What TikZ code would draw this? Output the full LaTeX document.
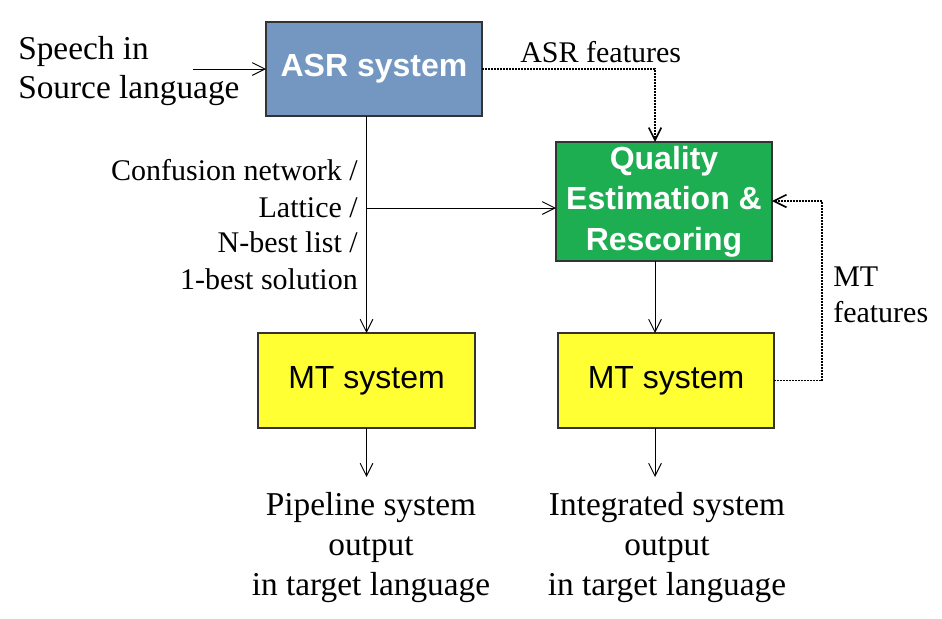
\documentclass[tikz,border=0pt]{standalone}
\usepackage{fontspec}
\setmainfont{Liberation Serif}
\newfontfamily\boxfont{Liberation Sans}
\usetikzlibrary{arrows.meta}
\definecolor{asrblue}{HTML}{7397C0}
\definecolor{qegreen}{HTML}{1DAE52}
\definecolor{mtyellow}{HTML}{FFFF33}
\begin{document}
\begin{tikzpicture}[x=0.75pt,y=-0.75pt,
  box/.style={draw=black!80, line width=1pt, inner sep=0pt, outer sep=0pt,
    font=\boxfont\fontsize{24}{30.5}\selectfont, align=center},
  boldbox/.style={box, text=white, font=\boxfont\bfseries\fontsize{24}{30.5}\selectfont},
  big/.style={font=\fontsize{25}{30}\selectfont, inner sep=0pt},
  small/.style={font=\fontsize{22.5}{27}\selectfont, inner sep=0pt},
  conn/.style={line width=0.75pt, -{Straight Barb[length=9.5pt,width=9.5pt]}},
  dots/.style={conn, line width=1.2pt, dash pattern=on 1.5pt off 0.75pt}]
\useasboundingbox (0,0) rectangle (942,618);

% boxes
\node[boldbox, fill=asrblue, minimum width=162pt, minimum height=70.5pt] (asr) at (374,69) {ASR system};
\node[boldbox, fill=qegreen, minimum width=162pt, minimum height=89.25pt] (qe) at (664,201.5) {Quality\\Estimation \&\\Rescoring};
\node[box, fill=mtyellow, minimum width=162.75pt, minimum height=71.25pt] (mtl) at (366.5,380.5) {MT system};
\node[box, fill=mtyellow, minimum width=162pt, minimum height=71.25pt] (mtr) at (666,380.5) {MT system};

% input
\node[big, anchor=base west] (sp1) at (18,59) {Speech in};
\node[big, anchor=base west] (sp2) at (18,98) {Source language};
\coordinate (spin) at (193,69);
\draw[conn] (spin) -- (asr.west);

% ASR -> MT (pipeline) and -> QE
\draw[conn] (asr.south -| mtl.north) -- (mtl.north);
\coordinate (br) at (366.5,208);
\draw[conn] (br) -- (br -| qe.west);
\node[small, anchor=base east] (l1) at (358,180) {Confusion network /};
\node[small, anchor=base east] (l2) at (358,217) {Lattice /};
\node[small, anchor=base east] (l3) at (358,252) {N-best list /};
\node[small, anchor=base east] (l4) at (358,289) {1-best solution};

% ASR features
\coordinate (af) at (655,69);
\draw[dots] (asr.east) -- (af) -- (af |- qe.north);
\node[small, anchor=base west] (afl) at (520,62) {ASR features};

% QE -> MT right
\coordinate (qx) at (655,0);
\draw[conn] (qe.south -| qx) -- (mtr.north -| qx);

% MT features
\coordinate (mf1) at (822,380.5);
\coordinate (mf2) at (822,201);
\draw[dots] (mtr.east) -- (mf1) -- (mf2) -- (mf2 -| qe.east);
\node[small, anchor=base west] (mfl1) at (833,286) {MT};
\node[small, anchor=base west] (mfl2) at (833,322) {features};

% outputs
\coordinate (ol) at (366.5,477);
\draw[conn] (mtl.south) -- (ol);
\node[big, anchor=base] (po1) at (371,515) {Pipeline system};
\node[big, anchor=base] (po2) at (371,555) {output};
\node[big, anchor=base] (po3) at (371,595) {in target language};

\coordinate (or) at (655,477);
\draw[conn] (mtr.south -| qx) -- (or);
\node[big, anchor=base] (io1) at (667,515) {Integrated system};
\node[big, anchor=base] (io2) at (667,555) {output};
\node[big, anchor=base] (io3) at (667,595) {in target language};
\end{tikzpicture}
\end{document}
